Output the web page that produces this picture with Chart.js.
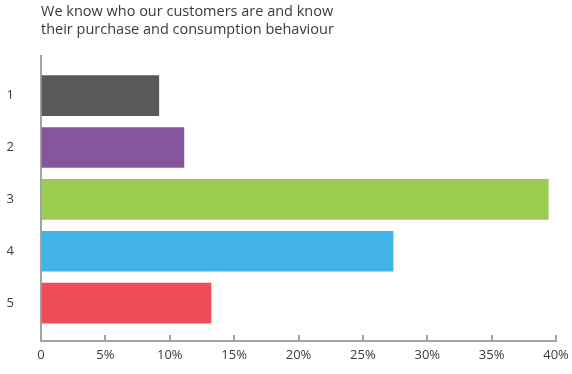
<!DOCTYPE html>
<html>
<head>
<meta charset="utf-8">
<script src="https://cdn.jsdelivr.net/npm/chart.js@4"></script>
<style>
  html, body { margin: 0; padding: 0; background: #fff; }
  #wrap { width: 572px; height: 374px; }
</style>
</head>
<body>
<div id="wrap"><canvas id="chart"></canvas></div>
<script>
// answers, one bar per row
const rowLabels = ['1', '2', '3', '4', '5'];
const rowPositions = [1, 2, 3, 4, 5];
const shareValues = [9.15, 11.1, 39.4, 27.35, 13.2];
const barColors = ['#58595b', '#85569b', '#9bcb4f', '#42b3e5', '#ef4c58'];
const xTicks = [0, 5, 10, 15, 20, 25, 30, 35, 40];
const titleLines = ['We know who our customers are and know', 'their purchase and consumption behaviour'];

const axisColor = '#a3a3a3';
const textColor = '#3a3a3a';
const fontFamily = '"Open Sans", "Noto Sans", sans-serif';

const points = rowPositions.map((y, i) => ({ x: shareValues[i], y: y }));

new Chart(document.getElementById('chart'), {
    type: 'bar',
    data: {
        datasets: [{
            data: points,
            backgroundColor: barColors,
            borderWidth: 0,
            barThickness: 40
        }]
    },
    options: {
        indexAxis: 'y',
        responsive: true,
        maintainAspectRatio: false,
        animation: false,
        layout: { padding: { top: 0, right: 16, bottom: 0, left: 0 } },
        scales: {
            y: {
                type: 'linear',
                reverse: true,
                offset: false,
                min: 0.24,
                max: 5.73,
                afterBuildTicks: function (scale) {
                    scale.ticks = rowPositions.map(v => ({ value: v }));
                },
                afterFit: function (scale) {
                    // fixed gutter; row labels never overhang the plot
                    scale.width = 41;
                    scale.paddingTop = 0;
                    scale.paddingBottom = 0;
                },
                grid: { display: false, drawTicks: false },
                border: { display: true, color: axisColor, width: 2 },
                ticks: {
                    padding: 27,
                    color: textColor,
                    font: { family: fontFamily, size: 13 },
                    callback: function (value) {
                        const i = rowPositions.indexOf(value);
                        return i >= 0 ? rowLabels[i] : '';
                    }
                }
            },
            x: {
                type: 'linear',
                min: xTicks[0],
                max: xTicks[xTicks.length - 1],
                afterBuildTicks: function (scale) {
                    scale.ticks = xTicks.map(v => ({ value: v }));
                },
                afterFit: function (scale) {
                    scale.height = 33;
                    scale.paddingLeft = 0;
                    scale.paddingRight = 0;
                },
                grid: {
                    display: true,
                    drawOnChartArea: false,
                    drawTicks: true,
                    tickLength: -6,   // tick marks point up into the plot
                    color: axisColor,
                    lineWidth: 2
                },
                border: { display: true, color: axisColor, width: 2 },
                ticks: {
                    padding: 12,
                    color: textColor,
                    font: { family: fontFamily, size: 13 },
                    maxRotation: 0,
                    callback: function (value) {
                        return value === 0 ? '0' : value + '%';
                    }
                }
            }
        },
        plugins: {
            legend: { display: false },
            tooltip: { enabled: false },
            title: {
                display: true,
                text: titleLines,
                align: 'start',
                fullSize: false,
                color: textColor,
                font: { family: fontFamily, size: 14.5, weight: 'normal', lineHeight: 1.25 },
                padding: { top: 3, bottom: 17 }
            }
        }
    }
});
</script>
</body>
</html>
